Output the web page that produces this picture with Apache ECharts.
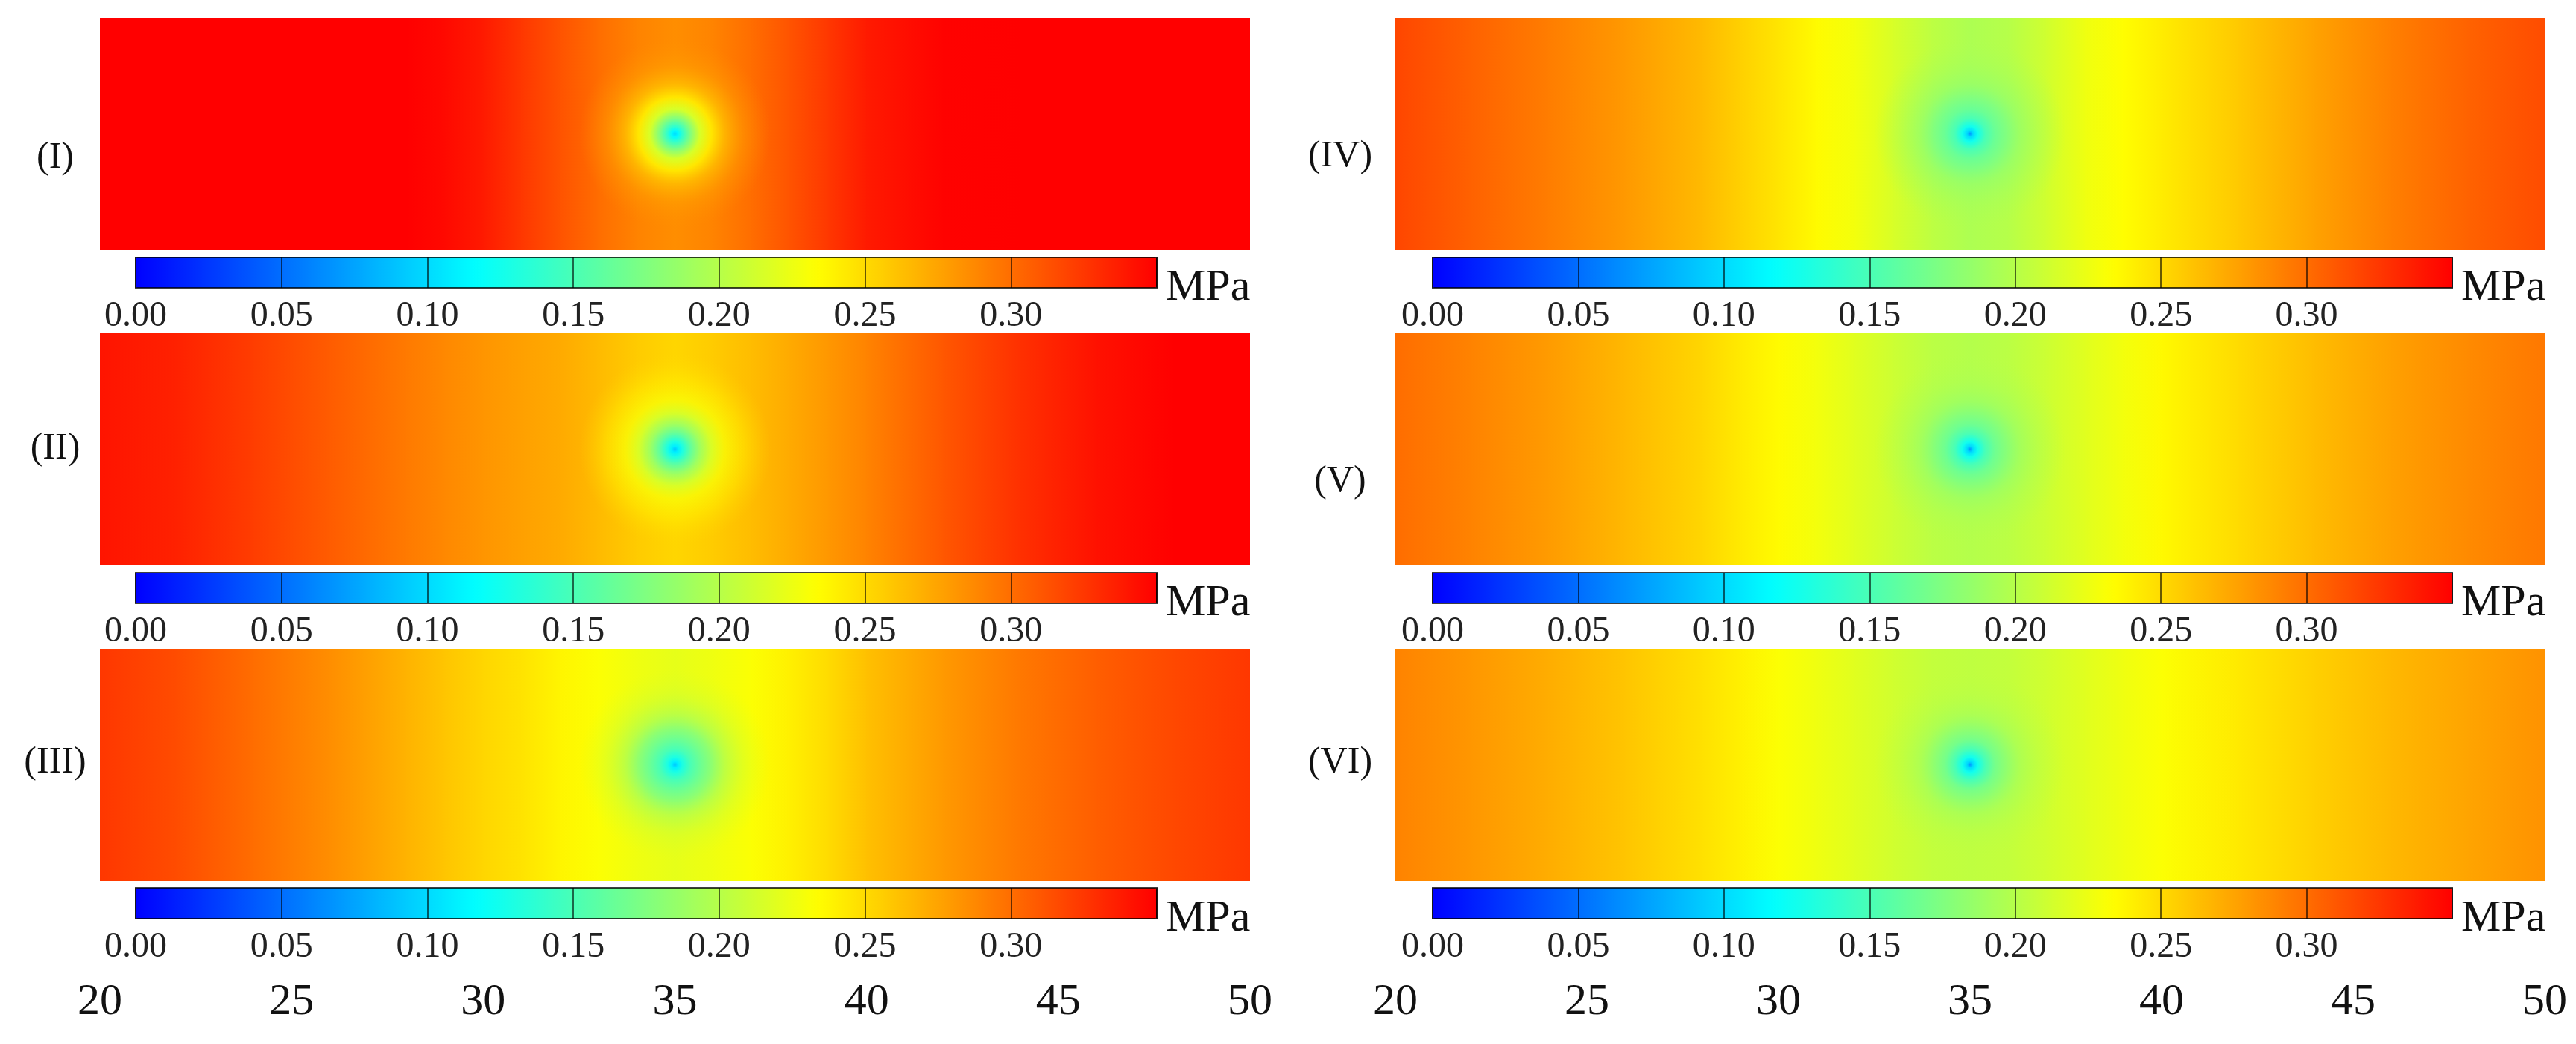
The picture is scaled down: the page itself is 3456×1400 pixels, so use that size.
<!DOCTYPE html>
<html>
<head>
<meta charset="utf-8">
<script src="https://cdn.jsdelivr.net/npm/echarts/dist/echarts.min.js"></script>
<style>
  html, body { margin: 0; padding: 0; background: #fff; }
  #chart { width: 3456px; height: 1400px; }
</style>
</head>
<body>
<div id="chart"></div>
<script>
// panels (I)-(III) left column, (IV)-(VI) right column
var panelNames = ['(I)', '(II)', '(III)', '(IV)', '(V)', '(VI)']
var xLabels = ['20', '25', '30', '35', '40', '45', '50']
var scaleLabels = ['0.00', '0.05', '0.10', '0.15', '0.20', '0.25', '0.30']
var scaleMax = 0.35
var colorStops = ['#0000ff', '#00ffff', '#ffff00', '#ff0000']

// stress read across the plate, away from the hole (MPa)
var profileX = [20, 22, 24, 26, 28, 29, 30, 31, 32, 33, 34, 35, 36, 37, 38, 39, 40, 42, 44, 46, 48, 50]
var stress1 = [0.35, 0.35, 0.35, 0.35, 0.35, 0.346, 0.338, 0.325, 0.312, 0.3, 0.29, 0.285, 0.29, 0.3, 0.312, 0.325, 0.338, 0.349, 0.35, 0.35, 0.35, 0.35]
var stress2 = [0.341, 0.335, 0.322, 0.308, 0.294, 0.288, 0.282, 0.277, 0.272, 0.265, 0.257, 0.252, 0.257, 0.264, 0.272, 0.281, 0.29, 0.31, 0.328, 0.342, 0.35, 0.35]
var stress3 = [0.325, 0.315, 0.3, 0.285, 0.268, 0.26, 0.252, 0.246, 0.238, 0.232, 0.226, 0.222, 0.226, 0.232, 0.24, 0.25, 0.262, 0.28, 0.295, 0.307, 0.317, 0.325]
var stress4 = [0.318, 0.305, 0.293, 0.28, 0.265, 0.255, 0.245, 0.235, 0.228, 0.215, 0.203, 0.196, 0.2, 0.212, 0.226, 0.234, 0.242, 0.258, 0.276, 0.292, 0.305, 0.315]
var stress5 = [0.3, 0.29, 0.279, 0.266, 0.252, 0.243, 0.235, 0.228, 0.219, 0.21, 0.202, 0.199, 0.202, 0.21, 0.219, 0.228, 0.236, 0.25, 0.264, 0.277, 0.287, 0.295]
var stress6 = [0.29, 0.281, 0.271, 0.26, 0.247, 0.24, 0.232, 0.226, 0.219, 0.212, 0.206, 0.204, 0.206, 0.212, 0.219, 0.226, 0.232, 0.243, 0.255, 0.266, 0.275, 0.283]

// stress around the hole, by distance from its centre
var holeX = 35
var holeY = 3
var ringR = [0, 0.08, 0.2, 0.4, 0.65, 0.95, 1.3, 1.8, 2.5]
var hole1 = [0.1, 0.115, 0.14, 0.175, 0.215, 0.243, 0.26, 0.275, 0.285]
var hole2 = [0.09, 0.11, 0.13, 0.16, 0.19, 0.215, 0.23, 0.238, 0.25]
var hole3 = [0.09, 0.11, 0.13, 0.15, 0.165, 0.18, 0.195, 0.208, 0.218]
var hole4 = [0.07, 0.1, 0.125, 0.15, 0.165, 0.175, 0.184, 0.19, 0.196]
var hole5 = [0.07, 0.1, 0.125, 0.15, 0.167, 0.178, 0.187, 0.194, 0.199]
var hole6 = [0.07, 0.1, 0.125, 0.15, 0.17, 0.182, 0.192, 0.199, 0.204]

var stressList = [stress1, stress2, stress3, stress4, stress5, stress6]
var holeList = [hole1, hole2, hole3, hole4, hole5, hole6]

var font = 'Liberation Serif'
var cols = [
  { left: 134, width: 1543, barLeft: 182, barWidth: 1370, labelX: 74 },
  { left: 1872, width: 1542, barLeft: 1922, barWidth: 1368, labelX: 1798 }
]
var rowTop = [24, 447, 870]
var panelH = 311
var labelY = [212, 602, 1023, 210, 646, 1023]
var fadeFrom = 0.9   // the hole halo fades into the field from here outwards

function stressColor(v) {
  return echarts.color.lerp(Math.min(Math.max(v / scaleMax, 0), 1), colorStops)
}

var grids = [], xAxes = [], yAxes = [], series = [], visualMaps = [], graphics = []

stressList.forEach(function (vals, i) {
  var col = cols[i < 3 ? 0 : 1]
  var row = i % 3
  var top = rowTop[row]
  var hole = holeList[i]
  var rOuter = ringR[ringR.length - 1]

  var g = grids.length
  grids.push({ left: col.left, top: top, width: col.width, height: panelH })
  xAxes.push({
    gridIndex: g, type: 'value', min: 20, max: 50, interval: 5,
    axisLine: { show: false }, axisTick: { show: false }, splitLine: { show: false },
    axisLabel: {
      show: row === 2, margin: 133, fontFamily: font, fontSize: 60, color: '#111',
      formatter: function (v, idx) { return xLabels[idx] }
    }
  })
  yAxes.push({ gridIndex: g, type: 'value', min: 0, max: 6, show: false })

  var strips = []
  for (var k = 0; k < profileX.length - 1; k++) {
    strips.push([profileX[k], profileX[k + 1], vals[k], vals[k + 1]])
  }
  var fieldIndex = series.length
  series.push({
    type: 'custom', xAxisIndex: g, yAxisIndex: g, data: strips, clip: true, silent: true,
    renderItem: function (params, api) {
      var a = api.coord([api.value(0), 6])
      var b = api.coord([api.value(1), 0])
      var x0 = Math.floor(a[0]), x1 = Math.ceil(b[0])
      return {
        type: 'rect',
        shape: { x: x0, y: a[1], width: x1 - x0 + 1, height: b[1] - a[1] },
        style: {
          fill: new echarts.graphic.LinearGradient(0, 0, 1, 0, [
            { offset: 0, color: stressColor(api.value(2)) },
            { offset: 1, color: stressColor(api.value(3)) }
          ])
        }
      }
    }
  })

  series.push({
    type: 'custom', xAxisIndex: g, yAxisIndex: g, data: [[holeX, holeY]], clip: true, silent: true,
    renderItem: function (params, api) {
      var c = api.coord([api.value(0), api.value(1)])
      var R = api.size([rOuter, 0])[0]
      var stops = ringR.map(function (r, k) {
        var alpha = r <= fadeFrom ? 1 : (rOuter - r) / (rOuter - fadeFrom)
        return { offset: r / rOuter, color: echarts.color.modifyAlpha(stressColor(hole[k]), alpha) }
      })
      return {
        type: 'circle',
        shape: { cx: c[0], cy: c[1], r: R },
        style: { fill: new echarts.graphic.RadialGradient(0.5, 0.5, 0.5, stops) }
      }
    }
  })

  // colour bar: visualMap draws the ramp, an empty axis adds ticks and labels
  var barTop = top + 321
  var cb = grids.length
  grids.push({
    left: col.barLeft, top: barTop, width: col.barWidth, height: 41, z: 10,
    show: true, backgroundColor: 'transparent', borderColor: 'rgba(0,0,0,0.75)', borderWidth: 2
  })
  xAxes.push({
    gridIndex: cb, type: 'value', min: 0, max: scaleMax, interval: 0.05, z: 10,
    name: 'MPa', nameLocation: 'end', nameGap: 12,
    nameTextStyle: { fontFamily: font, fontSize: 60, color: '#111' },
    axisLine: { show: false }, axisTick: { show: false },
    splitLine: { show: true, lineStyle: { color: 'rgba(0,0,0,0.6)', width: 2 } },
    axisLabel: {
      margin: 14, fontFamily: font, fontSize: 48, color: '#222',
      formatter: function (v, idx) { return scaleLabels[idx] || '' }
    }
  })
  yAxes.push({ gridIndex: cb, type: 'value', min: 0, max: 1, show: false })
  visualMaps.push({
    type: 'continuous', min: 0, max: scaleMax, orient: 'horizontal',
    left: col.barLeft, top: barTop, itemWidth: 41, itemHeight: col.barWidth,
    padding: 0, calculable: false, seriesIndex: fieldIndex, dimension: 2,
    inRange: { color: colorStops }
  })

  graphics.push({
    type: 'text', x: col.labelX, y: labelY[i],
    style: { text: panelNames[i], font: '50px "Liberation Serif"', fill: '#111', align: 'center', verticalAlign: 'middle' }
  })
})

var chart = echarts.init(document.getElementById('chart'))
chart.setOption({
  backgroundColor: '#fff',
  animation: false,
  grid: grids,
  xAxis: xAxes,
  yAxis: yAxes,
  visualMap: visualMaps,
  series: series,
  graphic: graphics
})
</script>
</body>
</html>
